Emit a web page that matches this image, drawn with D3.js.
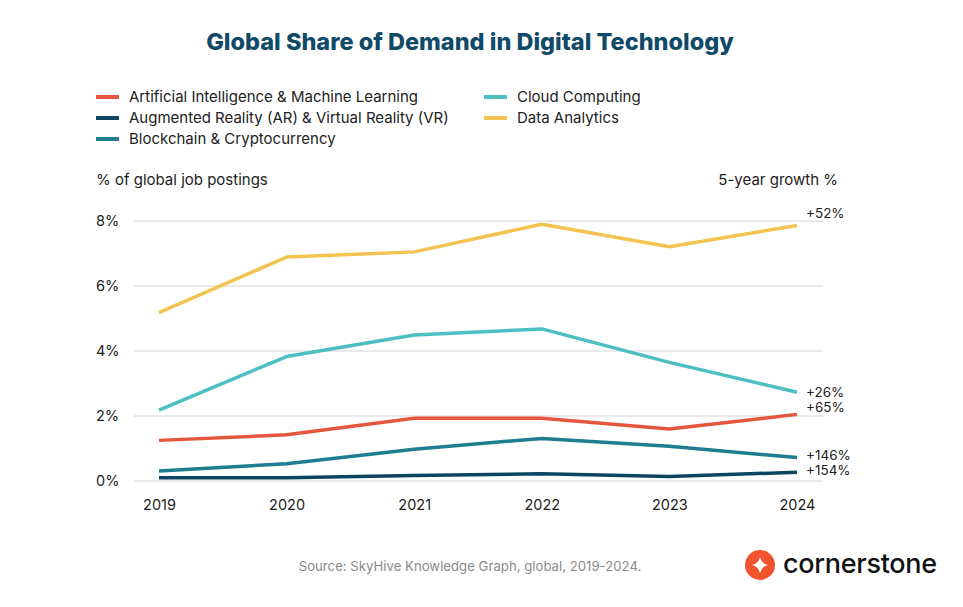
<!DOCTYPE html>
<html>
<head>
  <meta charset="utf-8">
  <title>Global Share of Demand in Digital Technology</title>
  <script src="https://d3js.org/d3.v7.min.js"></script>
  <style>
    body { margin: 0; background: #fff; }
    svg text { font-family: Inter, "Noto Sans", sans-serif; }
  </style>
</head>
<body>
  <div id="chart"></div>
  <script>
    // data
    var years = [2019, 2020, 2021, 2022, 2023, 2024];
    var seriesNames = [
      "Artificial Intelligence & Machine Learning",
      "Augmented Reality (AR) & Virtual Reality (VR)",
      "Blockchain & Cryptocurrency",
      "Cloud Computing",
      "Data Analytics"
    ];
    var aiValues = [1.25, 1.42, 1.93, 1.93, 1.60, 2.05];
    var arvrValues = [0.10, 0.10, 0.17, 0.22, 0.14, 0.27];
    var blockchainValues = [0.31, 0.53, 0.98, 1.31, 1.07, 0.72];
    var cloudValues = [2.18, 3.83, 4.49, 4.68, 3.65, 2.73];
    var analyticsValues = [5.18, 6.89, 7.05, 7.90, 7.21, 7.86];
    var growthLabels = ["+65%", "+154%", "+146%", "+26%", "+52%"];
    var yTicks = [0, 2, 4, 6, 8];

    var colors = ["#e4573d", "#0d4562", "#1e7d8e", "#4cbfc3", "#f2c350"];
    var allValues = [aiValues, arvrValues, blockchainValues, cloudValues, analyticsValues];

    var width = 963, height = 607;
    var svg = d3.select("#chart").append("svg")
      .attr("width", width).attr("height", height);

    // title
    svg.append("text")
      .attr("x", 470).attr("y", 50)
      .attr("text-anchor", "middle")
      .style("font-size", "23.5px").style("font-weight", 800)
      .style("fill", "#0f4a68")
      .text("Global Share of Demand in Digital Technology");

    // legend
    var legendPos = [[96, 97], [96, 118], [96, 139], [484, 97], [484, 118]];
    var legend = svg.append("g");
    seriesNames.forEach(function(name, i) {
      var p = legendPos[i];
      legend.append("line")
        .attr("x1", p[0]).attr("x2", p[0] + 23)
        .attr("y1", p[1]).attr("y2", p[1])
        .attr("stroke", colors[i]).attr("stroke-width", 4);
      legend.append("text")
        .attr("x", p[0] + 33).attr("y", p[1] + 5)
        .style("font-size", "15px").style("fill", "#222")
        .text(name);
    });

    svg.append("text")
      .attr("x", 96).attr("y", 185)
      .style("font-size", "15px").style("fill", "#222")
      .text("% of global job postings");
    svg.append("text")
      .attr("x", 838).attr("y", 185)
      .attr("text-anchor", "end")
      .style("font-size", "15px").style("fill", "#222")
      .text("5-year growth %");

    var x = d3.scalePoint().domain(years).range([159, 797]);
    var y = d3.scaleLinear().domain([0, 8]).range([481, 221]);

    // grid
    var grid = svg.append("g");
    grid.selectAll("line").data(yTicks).enter().append("line")
      .attr("x1", 134).attr("x2", 823)
      .attr("y1", function(d) { return y(d); })
      .attr("y2", function(d) { return y(d); })
      .attr("stroke", "#d4d4d4").attr("stroke-width", 1);

    var yAxis = d3.axisLeft(y).tickValues(yTicks)
      .tickFormat(function(d) { return d + "%"; }).tickSize(0);
    svg.append("g")
      .attr("transform", "translate(96,0)")
      .call(yAxis)
      .call(function(g) { g.select(".domain").remove(); })
      .selectAll("text")
        .attr("x", 0).attr("text-anchor", "start")
        .style("font-size", "14.5px").style("fill", "#222");

    var xAxis = d3.axisBottom(x).tickSize(0).tickPadding(0);
    svg.append("g")
      .attr("transform", "translate(0,500)")
      .call(xAxis)
      .call(function(g) { g.select(".domain").remove(); })
      .selectAll("text")
        .style("font-size", "14.5px").style("fill", "#222");

    var line = d3.line()
      .x(function(d, i) { return x(years[i]); })
      .y(function(d) { return y(d); });

    // draw lines back to front so the navy sits on top
    var order = [4, 3, 0, 2, 1];
    order.forEach(function(i) {
      svg.append("path")
        .datum(allValues[i])
        .attr("d", line)
        .attr("fill", "none")
        .attr("stroke", colors[i])
        .attr("stroke-width", 3.5)
        .attr("stroke-linejoin", "round");
    });

    // end labels, nudged to avoid overlaps
    var labelOffsets = [-7, -2, -3, 0, -13];
    allValues.forEach(function(vals, i) {
      svg.append("text")
        .attr("x", 806)
        .attr("y", y(vals[vals.length - 1]) + 5 + labelOffsets[i])
        .style("font-size", "13.5px").style("fill", "#222")
        .text(growthLabels[i]);
    });

    // source
    svg.append("text")
      .attr("x", 470).attr("y", 571)
      .attr("text-anchor", "middle")
      .style("font-size", "13.2px").style("fill", "#8a8a8a")
      .text("Source: SkyHive Knowledge Graph, global, 2019-2024.");

    // logo
    var logo = svg.append("g").attr("transform", "translate(760,565)");
    logo.append("circle").attr("r", 15).attr("fill", "#f0532d");
    logo.append("path")
      .attr("d", "M0,-8 Q1.5,-1.5 8,0 Q1.5,1.5 0,8 Q-1.5,1.5 -8,0 Q-1.5,-1.5 0,-8Z")
      .attr("fill", "#fff");
    svg.append("text")
      .attr("x", 783).attr("y", 573)
      .style("font-size", "27px").style("font-weight", 500)
      .style("fill", "#111").style("letter-spacing", "-0.3px")
      .text("cornerstone");
  </script>
</body>
</html>
